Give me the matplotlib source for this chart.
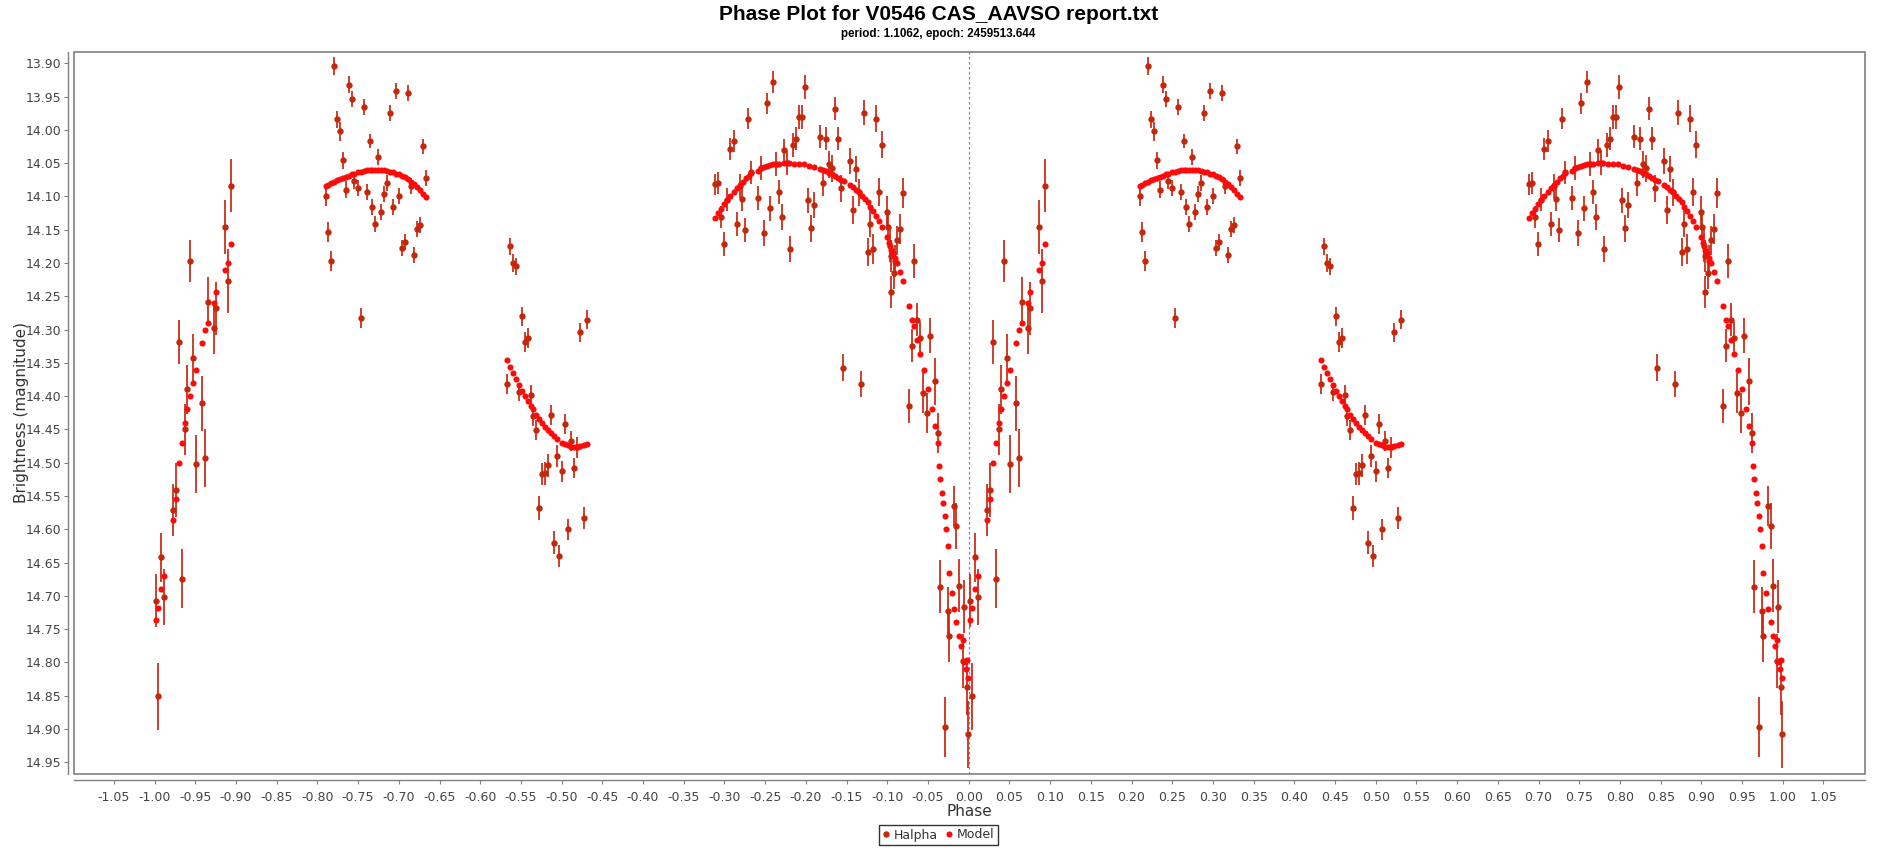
import numpy as np
import matplotlib
matplotlib.use('Agg')
import matplotlib.pyplot as plt
from matplotlib.patches import Rectangle
from matplotlib.lines import Line2D

# ---------------- data (phase in [0,1); plotted twice: phase-1 and phase) ----------------
halpha_phase = [
    0.0016, 0.0040, 0.0077, 0.0114, 0.0225, 0.0260, 0.0299, 0.0335, 0.0372, 0.0397,
    0.0434, 0.0470, 0.0507, 0.0580, 0.0618, 0.0655, 0.0729, 0.0753, 0.0864, 0.0900,
    0.0938,
    0.2104, 0.2129, 0.2166, 0.2203, 0.2240, 0.2277, 0.2313, 0.2350, 0.2387, 0.2424,
    0.2448, 0.2498, 0.2534, 0.2571, 0.2608, 0.2645, 0.2670, 0.2706, 0.2743, 0.2780,
    0.2817, 0.2854, 0.2890, 0.2928, 0.2964, 0.3001, 0.3038, 0.3075, 0.3112, 0.3150,
    0.3186, 0.3222, 0.3259, 0.3296, 0.3333,
    0.4328, 0.4365, 0.4402, 0.4439, 0.4476, 0.4512, 0.4549, 0.4586, 0.4623, 0.4648,
    0.4684, 0.4721, 0.4758, 0.4795, 0.4832, 0.4869, 0.4905, 0.4942, 0.4967, 0.5004,
    0.5040, 0.5077, 0.5114, 0.5151, 0.5188, 0.5225, 0.5274, 0.5311,
    0.6883, 0.6920, 0.6957, 0.6994, 0.7031, 0.7068, 0.7117, 0.7154, 0.7190, 0.7215,
    0.7252, 0.7289, 0.7326, 0.7411, 0.7448, 0.7485, 0.7522, 0.7559, 0.7596, 0.7630,
    0.7669, 0.7706, 0.7731, 0.7768, 0.7805, 0.7840, 0.7878, 0.7915, 0.7952, 0.7989,
    0.8026, 0.8063, 0.8100, 0.8173, 0.8210, 0.8247, 0.8284, 0.8320, 0.8357, 0.8394,
    0.8431, 0.8456, 0.8542, 0.8579, 0.8616, 0.8653, 0.8676, 0.8714, 0.8763, 0.8787,
    0.8824, 0.8861, 0.8898, 0.8935, 0.8996, 0.9009, 0.9033, 0.9046, 0.9046, 0.9083,
    0.9095, 0.9119, 0.9156, 0.9193, 0.9270, 0.9303, 0.9328, 0.9365, 0.9401, 0.9440,
    0.9490, 0.9524, 0.9590, 0.9620, 0.9650, 0.9710, 0.9740, 0.9760, 0.9820, 0.9850,
    0.9880, 0.9930, 0.9940, 0.9980, 0.9996,
]
halpha_mag = [
    14.707, 14.851, 14.642, 14.702, 14.571, 14.541, 14.319, 14.674, 14.450, 14.390,
    14.197, 14.342, 14.502, 14.411, 14.493, 14.258, 14.298, 14.268, 14.146, 14.227,
    14.084,
    14.100, 14.154, 14.197, 13.904, 13.984, 14.002, 14.046, 14.090, 13.932, 13.953,
    14.077, 14.088, 14.283, 13.966, 14.094, 14.017, 14.116, 14.141, 14.041, 14.124,
    14.097, 14.080, 13.974, 14.116, 13.941, 14.100, 14.178, 14.169, 13.944, 14.084,
    14.188, 14.149, 14.143, 14.025, 14.073,
    14.382, 14.175, 14.200, 14.205, 14.394, 14.280, 14.318, 14.312, 14.399, 14.430,
    14.451, 14.568, 14.517, 14.516, 14.504, 14.429, 14.620, 14.490, 14.640, 14.513,
    14.442, 14.600, 14.468, 14.508, 14.477, 14.304, 14.583, 14.285,
    14.082, 14.080, 14.131, 14.172, 14.105, 14.029, 14.017, 14.141, 14.084, 14.104,
    14.151, 13.983, 14.064, 14.103, 14.057, 14.155, 13.960, 14.118, 13.928, 14.052,
    14.094, 14.131, 14.031, 14.050, 14.179, 14.023, 14.013, 13.981, 13.980, 13.935,
    14.106, 14.148, 14.113, 14.010, 14.080, 14.013, 14.052, 14.058, 13.968, 14.013,
    14.088, 14.357, 14.047, 14.121, 14.059, 14.094, 14.382, 13.974, 14.183, 14.141,
    14.179, 13.983, 14.094, 14.022, 14.124, 14.146, 14.175, 14.190, 14.244, 14.215,
    14.197, 14.166, 14.149, 14.095, 14.415, 14.324, 14.197, 14.285, 14.313, 14.395,
    14.425, 14.309, 14.378, 14.455, 14.686, 14.897, 14.722, 14.760, 14.565, 14.595,
    14.685, 14.798, 14.716, 14.837, 14.908,
]
halpha_err = [
    0.040, 0.050, 0.037, 0.042, 0.039, 0.040, 0.033, 0.044, 0.038, 0.037,
    0.032, 0.036, 0.043, 0.041, 0.044, 0.037, 0.039, 0.040, 0.040, 0.048,
    0.040,
    0.014, 0.015, 0.015, 0.013, 0.013, 0.014, 0.013, 0.013, 0.013, 0.012,
    0.012, 0.012, 0.015, 0.012, 0.012, 0.011, 0.012, 0.012, 0.012, 0.012,
    0.012, 0.012, 0.012, 0.012, 0.012, 0.012, 0.012, 0.012, 0.012, 0.012,
    0.012, 0.012, 0.012, 0.012, 0.012,
    0.015, 0.013, 0.013, 0.013, 0.014, 0.014, 0.015, 0.015, 0.015, 0.015,
    0.015, 0.018, 0.017, 0.017, 0.017, 0.015, 0.017, 0.016, 0.016, 0.016,
    0.015, 0.016, 0.015, 0.015, 0.016, 0.014, 0.017, 0.014,
    0.016, 0.016, 0.017, 0.018, 0.017, 0.017, 0.017, 0.018, 0.018, 0.018,
    0.018, 0.016, 0.017, 0.018, 0.018, 0.019, 0.016, 0.019, 0.016, 0.018,
    0.018, 0.019, 0.017, 0.018, 0.019, 0.018, 0.018, 0.018, 0.018, 0.018,
    0.019, 0.020, 0.020, 0.018, 0.019, 0.018, 0.020, 0.020, 0.017, 0.018,
    0.020, 0.020, 0.019, 0.021, 0.020, 0.020, 0.020, 0.019, 0.021, 0.020,
    0.022, 0.020, 0.021, 0.020, 0.024, 0.024, 0.024, 0.024, 0.024, 0.024,
    0.024, 0.022, 0.022, 0.022, 0.025, 0.025, 0.026, 0.025, 0.025, 0.030,
    0.030, 0.026, 0.035, 0.030, 0.040, 0.045, 0.035, 0.040, 0.030, 0.035,
    0.040, 0.040, 0.040, 0.042, 0.050,
]

model_phase = [
    0.0016, 0.0040, 0.0077, 0.0114, 0.0225, 0.0260, 0.0299, 0.0336, 0.0372, 0.0397,
    0.0434, 0.0470, 0.0507, 0.0580, 0.0618, 0.0655, 0.0729, 0.0753, 0.0864, 0.0900,
    0.0938,
    0.2104, 0.2129, 0.2166, 0.2203, 0.2240, 0.2277, 0.2313, 0.2350, 0.2387, 0.2424,
    0.2448, 0.2498, 0.2534, 0.2571, 0.2608, 0.2645, 0.2670, 0.2706, 0.2743, 0.2780,
    0.2817, 0.2854, 0.2890, 0.2928, 0.2964, 0.3001, 0.3038, 0.3075, 0.3112, 0.3150,
    0.3186, 0.3222, 0.3259, 0.3296, 0.3333,
    0.4328, 0.4365, 0.4402, 0.4439, 0.4476, 0.4512, 0.4549, 0.4586, 0.4623, 0.4648,
    0.4684, 0.4721, 0.4758, 0.4795, 0.4832, 0.4869, 0.4905, 0.4942, 0.5004, 0.5040,
    0.5077, 0.5114, 0.5151, 0.5188, 0.5225, 0.5274, 0.5311,
    0.6883, 0.6920, 0.6957, 0.6994, 0.7031, 0.7068, 0.7117, 0.7154, 0.7190, 0.7227,
    0.7264, 0.7300, 0.7326, 0.7411, 0.7448, 0.7485, 0.7522, 0.7559, 0.7596, 0.7630,
    0.7669, 0.7731, 0.7790, 0.7853, 0.7915, 0.7977, 0.8040, 0.8100, 0.8173, 0.8210,
    0.8247, 0.8284, 0.8320, 0.8357, 0.8394, 0.8431, 0.8468, 0.8542, 0.8579, 0.8616,
    0.8653, 0.8689, 0.8726, 0.8763, 0.8787, 0.8824, 0.8861, 0.8898, 0.8935, 0.8996,
    0.9020, 0.9046, 0.9070, 0.9095, 0.9119, 0.9156, 0.9193, 0.9267, 0.9303, 0.9328,
    0.9365, 0.9401, 0.9450, 0.9500, 0.9550, 0.9590, 0.9620, 0.9630, 0.9650, 0.9670,
    0.9680, 0.9710, 0.9720, 0.9740, 0.9760, 0.9790, 0.9820, 0.9850, 0.9880, 0.9900,
    0.9930, 0.9940, 0.9970, 0.9980, 0.9996,
]
model_mag = [
    14.737, 14.718, 14.690, 14.670, 14.586, 14.555, 14.500, 14.470, 14.440, 14.420,
    14.400, 14.380, 14.360, 14.320, 14.300, 14.290, 14.260, 14.244, 14.210, 14.200,
    14.172,
    14.085, 14.083, 14.080, 14.078, 14.076, 14.074, 14.073, 14.071, 14.069, 14.067,
    14.066, 14.064, 14.063, 14.062, 14.061, 14.060, 14.060, 14.060, 14.060, 14.060,
    14.061, 14.062, 14.063, 14.064, 14.066, 14.067, 14.069, 14.071, 14.074, 14.078,
    14.082, 14.086, 14.090, 14.096, 14.101,
    14.345, 14.356, 14.365, 14.374, 14.383, 14.392, 14.400, 14.407, 14.415, 14.420,
    14.428, 14.434, 14.440, 14.446, 14.451, 14.456, 14.460, 14.465, 14.470, 14.472,
    14.474, 14.476, 14.476, 14.476, 14.475, 14.473, 14.472,
    14.133, 14.125, 14.119, 14.112, 14.106, 14.100, 14.094, 14.088, 14.083, 14.078,
    14.073, 14.069, 14.065, 14.062, 14.058, 14.056, 14.055, 14.053, 14.052, 14.051,
    14.051, 14.050, 14.050, 14.051, 14.051, 14.052, 14.054, 14.056, 14.059, 14.060,
    14.062, 14.065, 14.067, 14.070, 14.072, 14.075, 14.077, 14.083, 14.086, 14.090,
    14.093, 14.099, 14.104, 14.109, 14.116, 14.122, 14.129, 14.137, 14.146, 14.161,
    14.170, 14.180, 14.185, 14.193, 14.200, 14.214, 14.227, 14.265, 14.285, 14.294,
    14.315, 14.336, 14.360, 14.390, 14.420, 14.445, 14.470, 14.505, 14.525, 14.545,
    14.560, 14.580, 14.600, 14.625, 14.665, 14.695, 14.720, 14.740, 14.760, 14.775,
    14.766, 14.800, 14.810, 14.797, 14.824,
]

x_tick_values = [round(-1.05 + 0.05 * i, 2) for i in range(43)]
y_tick_values = [round(13.90 + 0.05 * i, 2) for i in range(22)]

title = "Phase Plot for V0546 CAS_AAVSO report.txt"
subtitle = "period: 1.1062, epoch: 2459513.644"

# ---------------- figure ----------------
W, H = 1877, 848
fig = plt.figure(figsize=(W / 100, H / 100), dpi=100)
ax = fig.add_axes([74 / W, 1 - 774 / H, (1865 - 74) / W, (774 - 51.7) / H])

halpha_col = '#c4280c'
bar_col = '#c81e08'
model_col = '#ff0a0a'

hp = np.array(halpha_phase)
hm = np.array(halpha_mag)
he = np.array(halpha_err)
mp = np.array(model_phase)
mm = np.array(model_mag)

for shift in (-1.0, 0.0):
    ax.errorbar(hp + shift, hm, yerr=he, fmt='o', color=halpha_col, ecolor=bar_col,
                elinewidth=1.2, capsize=2.9, capthick=1.2, markersize=4.6,
                markeredgewidth=0, zorder=3)
    ax.plot(mp + shift, mm, 'o', color=model_col, markersize=4.4,
            markeredgewidth=0, zorder=4, linestyle='none')

ax.axvline(0.0, color='#7a7aff', lw=0.9, ls=(0, (2, 2)), zorder=1)

ax.set_xlim(-1.099, 1.101)
ax.set_ylim(14.9676, 13.8826)

ax.set_xticks(x_tick_values)
ax.set_xticklabels(['%.2f' % v for v in x_tick_values])
ax.set_yticks(y_tick_values)
ax.set_yticklabels(['%.2f' % v for v in y_tick_values])

gray = '#808080'
for s in ('top', 'right'):
    ax.spines[s].set_visible(False)
for s in ('left', 'bottom'):
    ax.spines[s].set_position(('outward', 4))
    ax.spines[s].set_color(gray)
    ax.spines[s].set_linewidth(1.0)
ax.add_patch(Rectangle((0, 0), 1, 1, transform=ax.transAxes, fill=False,
                       edgecolor=gray, lw=1.2, clip_on=False, zorder=10))

ax.tick_params(axis='both', direction='out', length=3, width=0.8, color=gray,
               labelcolor='#444444', labelsize=9)
ax.tick_params(axis='x', pad=5)
ax.tick_params(axis='y', pad=2)

ax.set_xlabel('Phase', fontsize=11, color='#333333', labelpad=0)
ax.set_ylabel('Brightness (magnitude)', fontsize=11, color='#333333', labelpad=-2)

fig.text(0.5, 1 - 14 / H, title, ha='center', va='center', fontsize=15,
         fontweight='bold', family=['Liberation Sans', 'DejaVu Sans'])
fig.text(0.5, 1 - 34 / H, subtitle, ha='center', va='center', fontsize=8.4,
         fontweight='bold', family=['Liberation Sans', 'DejaVu Sans'])

handles = [Line2D([], [], marker='o', ls='none', color=halpha_col, markersize=4.6,
                  markeredgewidth=0),
           Line2D([], [], marker='o', ls='none', color=model_col, markersize=4.4,
                  markeredgewidth=0)]
leg = fig.legend(handles, ['Halpha', 'Model'], loc='center',
                 bbox_to_anchor=(0.5, 1 - 835 / H), ncol=2, fontsize=9,
                 frameon=True, fancybox=False, handlelength=0.6, handletextpad=0.3,
                 columnspacing=0.6, borderpad=0.3, borderaxespad=0)
leg.get_frame().set_edgecolor('black')
leg.get_frame().set_linewidth(1.0)
for t in leg.get_texts():
    t.set_color('#333333')

fig.savefig('out.png', dpi=100)
